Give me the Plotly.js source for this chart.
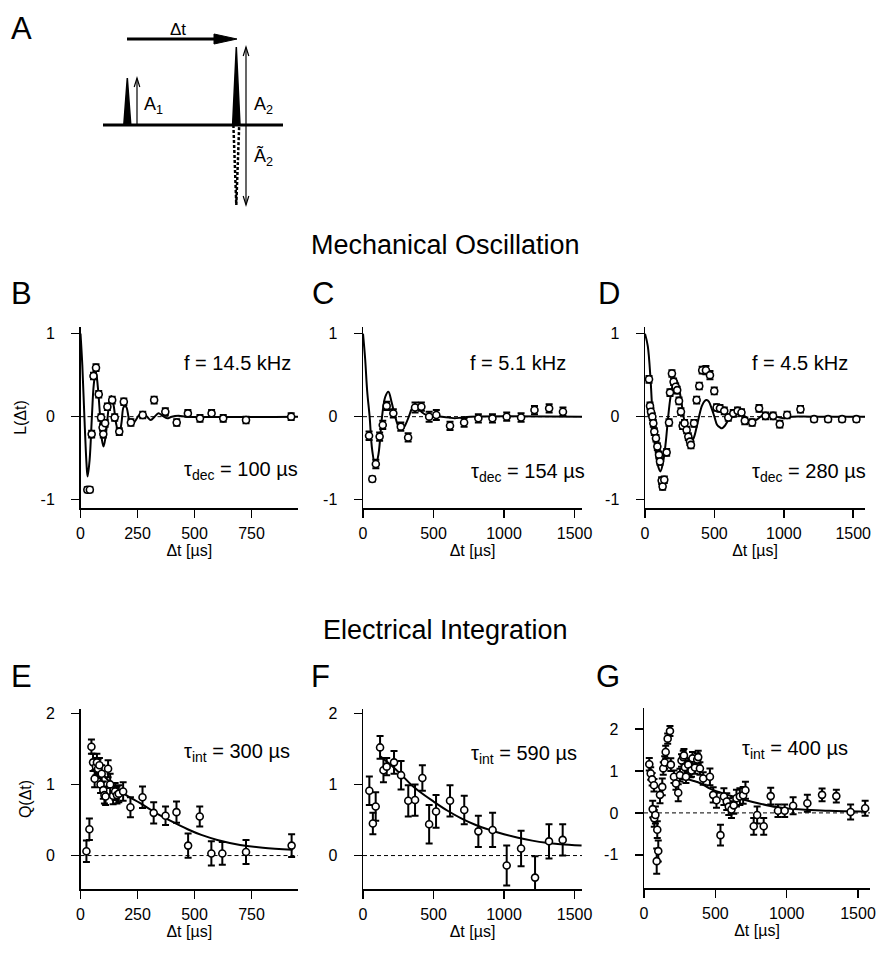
<!DOCTYPE html>
<html><head><meta charset="utf-8">
<script src="https://cdn.plot.ly/plotly-3.0.1.min.js"></script>
<style>body{margin:0;padding:0;background:#fff}#g{width:890px;height:957px}</style>
</head><body><div id="g"></div>
<script>
// ---------- DATA ----------
// Panel B
const bX   = [30, 41, 49, 57, 68, 80, 90, 97, 100, 108, 118, 139, 150, 170, 190, 221, 273, 323, 372, 422, 471, 524, 575, 626, 726, 924];
const bY   = [-0.88, -0.88, -0.21, 0.49, 0.59, 0.27, -0.01, -0.13, -0.21, -0.08, 0.12, 0.20, -0.01, -0.18, 0.18, -0.07, 0.02, 0.20, 0.06, -0.07, 0.04, -0.02, 0.04, -0.02, -0.04, 0.00];
const bErr = [0.03, 0.03, 0.04, 0.04, 0.04, 0.04, 0.04, 0.04, 0.04, 0.04, 0.04, 0.04, 0.04, 0.04, 0.04, 0.04, 0.04, 0.04, 0.04, 0.04, 0.04, 0.04, 0.04, 0.04, 0.04, 0.04];
const bFitX = [0, 8, 17, 26, 31, 40, 50, 58, 67, 76, 86, 94, 101, 110, 121, 128, 135, 145, 156, 164, 171, 180, 190, 200, 212, 224, 240, 258, 275, 292, 308, 325, 342, 360, 380, 400, 430, 470, 954];
const bFitY = [1.0, 0.62, 0.0, -0.55, -0.72, -0.52, 0.0, 0.38, 0.55, 0.36, 0.0, -0.28, -0.36, -0.24, 0.05, 0.2, 0.25, 0.14, -0.08, -0.17, -0.19, -0.07, 0.12, 0.12, -0.02, -0.1, -0.05, 0.02, 0.04, 0.0, -0.04, 0.0, 0.04, 0.01, -0.02, 0.0, 0.01, 0.0, 0.0];

// Panel C
const cX   = [43, 66, 91, 118, 140, 168, 215, 268, 320, 369, 414, 469, 520, 617, 717, 818, 918, 1019, 1121, 1216, 1320, 1418];
const cY   = [-0.23, -0.75, -0.57, -0.24, -0.10, 0.13, 0.04, -0.12, -0.25, 0.11, 0.12, 0.00, 0.02, -0.11, -0.07, -0.02, -0.02, 0.00, -0.01, 0.08, 0.10, 0.06];
const cErr = [0.05, 0.03, 0.05, 0.05, 0.05, 0.05, 0.05, 0.05, 0.05, 0.06, 0.05, 0.06, 0.06, 0.05, 0.05, 0.05, 0.05, 0.05, 0.05, 0.05, 0.05, 0.05];
const cFitX = [0, 15, 30, 47, 65, 88, 110, 135, 158, 180, 202, 228, 252, 275, 300, 325, 348, 370, 395, 420, 450, 500, 560, 610, 650, 700, 760, 1553];
const cFitY = [1.0, 0.7, 0.3, 0.0, -0.4, -0.6, -0.45, 0.0, 0.24, 0.3, 0.18, 0.0, -0.12, -0.16, -0.1, 0.0, 0.1, 0.13, 0.1, 0.05, 0.02, 0.01, 0.0, -0.01, -0.02, -0.01, 0.0, 0.0];

// Panel D
const dX   = [29, 36, 43, 53, 60, 67, 79, 89, 101, 108, 120, 127, 139, 156, 173, 180, 194, 206, 221, 232, 245, 259, 271, 285, 300, 312, 324, 331, 353, 372, 391, 412, 439, 468, 499, 516, 540, 571, 600, 636, 667, 695, 719, 772, 822, 868, 923, 971, 1024, 1120, 1218, 1319, 1420, 1523];
const dY   = [0.45, 0.13, 0.06, 0.0, -0.08, -0.18, -0.26, -0.36, -0.46, -0.54, -0.77, -0.84, -0.76, -0.43, -0.07, 0.29, 0.52, 0.42, 0.36, 0.32, 0.19, 0.06, -0.11, -0.08, -0.16, -0.24, -0.30, -0.34, -0.08, 0.20, 0.37, 0.56, 0.56, 0.50, 0.31, 0.11, 0.10, 0.07, -0.01, 0.04, 0.07, 0.05, -0.05, -0.07, 0.10, 0.01, 0.01, -0.09, 0.02, 0.09, -0.03, -0.03, -0.03, -0.03];
const dErr = [0.04, 0.04, 0.04, 0.04, 0.04, 0.04, 0.04, 0.04, 0.04, 0.04, 0.04, 0.04, 0.04, 0.04, 0.04, 0.04, 0.04, 0.04, 0.04, 0.04, 0.04, 0.04, 0.04, 0.04, 0.04, 0.04, 0.04, 0.04, 0.04, 0.04, 0.04, 0.04, 0.05, 0.05, 0.04, 0.04, 0.04, 0.04, 0.04, 0.04, 0.04, 0.04, 0.04, 0.04, 0.04, 0.04, 0.04, 0.04, 0.04, 0.04, 0.03, 0.03, 0.03, 0.03];
const dFitX = [0, 20, 40, 55, 75, 95, 111, 130, 150, 167, 185, 205, 222, 240, 260, 278, 300, 318, 333, 350, 370, 389, 410, 430, 444, 460, 480, 500, 520, 540, 555, 575, 600, 640, 666, 690, 722, 750, 777, 810, 833, 870, 900, 945, 1000, 1060, 1200, 1585];
const dFitY = [1.0, 0.85, 0.45, 0.0, -0.4, -0.6, -0.66, -0.55, -0.3, 0.0, 0.25, 0.41, 0.45, 0.38, 0.2, 0.0, -0.18, -0.27, -0.3, -0.26, -0.14, 0.0, 0.13, 0.19, 0.2, 0.18, 0.1, 0.0, -0.1, -0.13, -0.14, -0.11, -0.04, 0.07, 0.09, 0.07, 0.0, -0.05, -0.06, -0.03, 0.0, 0.03, 0.03, 0.0, -0.02, 0.0, 0.0, 0.0];

// Panel E
const eX   = [26, 39, 48, 55, 62, 68, 72, 77, 83, 88, 93, 100, 105, 110, 121, 130, 143, 152, 160, 168, 187, 219, 272, 321, 373, 421, 472, 523, 574, 622, 726, 926];
const eY   = [0.06, 0.37, 1.53, 1.31, 1.08, 1.25, 1.31, 1.22, 1.27, 1.00, 1.15, 0.92, 0.85, 0.83, 1.22, 1.00, 0.84, 0.90, 0.85, 0.87, 0.90, 0.68, 0.82, 0.60, 0.56, 0.61, 0.14, 0.55, 0.03, 0.03, 0.05, 0.14];
const eErr = [0.15, 0.15, 0.10, 0.12, 0.12, 0.12, 0.12, 0.13, 0.10, 0.12, 0.12, 0.12, 0.12, 0.12, 0.12, 0.15, 0.12, 0.12, 0.12, 0.12, 0.13, 0.14, 0.15, 0.15, 0.13, 0.15, 0.17, 0.14, 0.17, 0.16, 0.17, 0.16];
const eFitX = [55, 80, 100, 150, 200, 260, 330, 400, 470, 530, 600, 700, 800, 930];
const eFitY = [1.35, 1.22, 1.13, 0.97, 0.85, 0.74, 0.6, 0.48, 0.37, 0.29, 0.22, 0.15, 0.11, 0.08];

// Panel F
const fX   = [45, 70, 90, 121, 145, 168, 220, 270, 321, 369, 421, 469, 518, 617, 718, 818, 919, 1019, 1121, 1220, 1319, 1416];
const fY   = [0.91, 0.45, 0.69, 1.52, 1.20, 1.25, 1.31, 1.13, 0.77, 0.78, 1.09, 0.44, 0.62, 0.77, 0.64, 0.34, 0.36, -0.14, 0.10, -0.31, 0.20, 0.22];
const fErr = [0.20, 0.15, 0.20, 0.16, 0.17, 0.12, 0.16, 0.20, 0.22, 0.22, 0.18, 0.27, 0.23, 0.22, 0.20, 0.22, 0.24, 0.28, 0.25, 0.30, 0.24, 0.22];
const fFitX = [120, 200, 270, 340, 400, 500, 600, 700, 800, 900, 1000, 1100, 1200, 1300, 1400, 1550];
const fFitY = [1.4, 1.27, 1.14, 1.0, 0.9, 0.76, 0.63, 0.52, 0.43, 0.36, 0.3, 0.25, 0.21, 0.18, 0.16, 0.14];

// Panel G
const gX   = [37, 47, 57, 61, 70, 72, 80, 89, 93, 100, 112, 128, 135, 145, 152, 166, 182, 188, 210, 224, 240, 252, 263, 275, 280, 287, 294, 310, 326, 333, 340, 357, 373, 380, 392, 415, 462, 485, 508, 536, 560, 580, 594, 613, 629, 648, 672, 695, 711, 769, 793, 839, 888, 939, 986, 1045, 1145, 1248, 1348, 1448, 1550];
const gY   = [1.16, 0.94, 0.80, 0.09, 0.66, -0.13, -0.05, -1.15, -0.40, -0.91, 0.43, 0.62, 1.06, 1.20, 1.45, 1.77, 1.95, 1.15, 0.86, 0.70, 0.48, 0.90, 1.25, 1.33, 1.37, 1.09, 0.86, 1.15, 1.00, 1.01, 1.30, 1.08, 1.27, 1.33, 1.06, 0.82, 0.86, 0.43, 0.30, -0.53, 0.39, 0.27, 0.15, 0.08, 0.18, 0.35, 0.39, 0.42, 0.54, -0.32, -0.05, -0.32, 0.40, 0.05, 0.05, 0.17, 0.23, 0.43, 0.40, 0.02, 0.11];
const gErr = [0.15, 0.15, 0.15, 0.20, 0.15, 0.20, 0.20, 0.30, 0.20, 0.25, 0.20, 0.20, 0.15, 0.15, 0.15, 0.12, 0.12, 0.15, 0.15, 0.15, 0.20, 0.15, 0.15, 0.15, 0.15, 0.15, 0.15, 0.15, 0.15, 0.15, 0.15, 0.15, 0.15, 0.15, 0.15, 0.15, 0.20, 0.18, 0.18, 0.25, 0.20, 0.20, 0.20, 0.20, 0.20, 0.20, 0.20, 0.20, 0.20, 0.20, 0.20, 0.20, 0.20, 0.15, 0.15, 0.20, 0.20, 0.15, 0.15, 0.18, 0.18];
const gFitX = [250, 300, 350, 400, 462, 550, 625, 695, 800, 928, 1050, 1161, 1300, 1560];
const gFitY = [0.8, 0.8, 0.76, 0.7, 0.58, 0.47, 0.39, 0.32, 0.23, 0.14, 0.09, 0.07, 0.05, 0.03];

// Tick labels
const xTicksB = [0, 250, 500, 750];
const xTicksLong = [0, 500, 1000, 1500];
const yTicksL = [-1, 0, 1];
const yTicksLText = ['-1', '0', '1'];
const yTicksQ = [0, 1, 2];
const yTicksG = [-1, 0, 1, 2];
const yTicksGText = ['-1', '0', '1', '2'];

// ---------- LAYOUT ----------
const W = 890, H = 957;
const FONT = 'Liberation Sans, Arial, Helvetica, sans-serif';
const px = x => x / W;
const py = y => 1 - y / H;

function xAxis(x0, x1, range, tickvals, anchor) {
  return {domain: [px(x0), px(x1)], range: range, anchor: anchor,
    showline: true, linewidth: 1.5, linecolor: '#000', mirror: false,
    ticks: 'outside', ticklen: 8, tickwidth: 1.5, tickcolor: '#000',
    tickmode: 'array', tickvals: tickvals, ticktext: tickvals.map(String),
    tickfont: {size: 16, color: '#000', family: FONT}, ticklabelstandoff: 2,
    showgrid: false, zeroline: false, automargin: false, fixedrange: true,
    title: {text: 'Δt [µs]', font: {size: 16, color: '#000', family: FONT}, standoff: 3}};
}
function yAxis(y0, y1, range, tickvals, ticktext, anchor, title) {
  const a = {domain: [py(y1), py(y0)], range: range, anchor: anchor,
    showline: true, linewidth: 1.5, linecolor: '#000', mirror: false,
    ticks: 'outside', ticklen: 8, tickwidth: 1.5, tickcolor: '#000',
    tickmode: 'array', tickvals: tickvals, ticktext: ticktext,
    tickfont: {size: 16, color: '#000', family: FONT}, ticklabelstandoff: 13,
    showgrid: false, zeroline: false, automargin: false, fixedrange: true};
  if (title) a.title = {text: title, font: {size: 16, color: '#000', family: FONT}, standoff: 10};
  return a;
}

const rangeL = [-1.10, 1.08];
const rangeQ = [-0.47, 2.06];
const layout = {
  width: W, height: H, margin: {l: 0, r: 0, t: 0, b: 0}, autosize: false,
  paper_bgcolor: '#fff', plot_bgcolor: 'rgba(0,0,0,0)', showlegend: false,
  font: {family: FONT, color: '#000', size: 16},
  xaxis:  xAxis(80.5, 298, [0, 954], xTicksB, 'y'),
  yaxis:  yAxis(327, 508, rangeL, yTicksL, yTicksLText, 'x', 'L(Δt)'),
  xaxis2: xAxis(363, 582, [0, 1553], xTicksLong, 'y2'),
  yaxis2: yAxis(327, 508, rangeL, yTicksL, yTicksLText, 'x2'),
  xaxis3: xAxis(645, 865, [0, 1585], xTicksLong, 'y3'),
  yaxis3: yAxis(327, 508, rangeL, yTicksL, yTicksLText, 'x3'),
  xaxis4: xAxis(80.5, 298, [0, 954], xTicksB, 'y4'),
  yaxis4: yAxis(709, 889, rangeQ, yTicksQ, yTicksQ.map(String), 'x4', 'Q(Δt)'),
  xaxis5: xAxis(363, 582, [0, 1553], xTicksLong, 'y5'),
  yaxis5: yAxis(709, 889, rangeQ, yTicksQ, yTicksQ.map(String), 'x5'),
  xaxis6: xAxis(644, 870, [0, 1584], xTicksLong, 'y6'),
  yaxis6: yAxis(708, 888, [-1.79, 2.5], yTicksG, yTicksGText, 'x6'),
  // pixel-space helper axes for the schematic of panel A
  xaxis7: {domain: [0, 1], range: [0, W], visible: false, fixedrange: true, anchor: 'y7'},
  yaxis7: {domain: [0, 1], range: [H, 0], visible: false, fixedrange: true, anchor: 'x7'},
  shapes: [], annotations: []
};

// dashed zero lines
['', '2', '3', '4', '5', '6'].forEach(s => {
  layout.shapes.push({type: 'line', xref: 'x' + s + ' domain', yref: 'y' + s, x0: 0, x1: 1, y0: 0, y1: 0,
    line: {color: '#000', width: 1, dash: '4px,3px'}, layer: 'below'});
});

// schematic (panel A), drawn in pixel space
const S = {xref: 'x7', yref: 'y7'};
function shp(o) { layout.shapes.push(Object.assign(o, S)); }
shp({type: 'line', x0: 103, y0: 125, x1: 283, y1: 125, line: {color: '#000', width: 3}});
shp({type: 'path', path: 'M123.8,125 L127.3,78 L130.8,125 Z', fillcolor: '#000', line: {color: '#000', width: 1.5}});
shp({type: 'path', path: 'M232.6,125 L236.3,47 L240,125 Z', fillcolor: '#000', line: {color: '#000', width: 1.5}});
shp({type: 'path', path: 'M233.4,125 L236.3,205 L239.2,125', line: {color: '#000', width: 2.5, dash: '3px,2px'}});
// Δt arrow
shp({type: 'line', x0: 127, y0: 39, x1: 218, y1: 39, line: {color: '#000', width: 3}});
shp({type: 'path', path: 'M214,34 L237,39 L214,44 Z', fillcolor: '#000', line: {color: '#000', width: 1}});
// A1 arrow
shp({type: 'line', x0: 137, y0: 125, x1: 137, y1: 78.5, line: {color: '#000', width: 1.2}});
shp({type: 'path', path: 'M134.2,87 L137,78 L139.8,87', line: {color: '#000', width: 1.2}});
// A2 double arrow
shp({type: 'line', x0: 246, y0: 47.5, x1: 246, y1: 204.5, line: {color: '#000', width: 1.2}});
shp({type: 'path', path: 'M243.2,56 L246,47 L248.8,56', line: {color: '#000', width: 1.2}});
shp({type: 'path', path: 'M243.2,196 L246,205 L248.8,196', line: {color: '#000', width: 1.2}});

function txt(text, x, y, size, xanchor, opts) {
  return Object.assign({text: text, x: px(x), y: py(y), xref: 'paper', yref: 'paper', showarrow: false,
    xanchor: xanchor || 'left', yanchor: 'middle', font: {size: size, color: '#000', family: FONT}}, opts || {});
}
// schematic labels
layout.annotations.push(txt('Δt', 178, 30, 17, 'center'));
layout.annotations.push(txt('A<sub>1</sub>', 142, 106, 18));
layout.annotations.push(txt('A<sub>2</sub>', 252, 106, 18));
layout.annotations.push(txt('Ã<sub>2</sub>', 252, 157, 18));

// panel letters
[['A', 9, 28], ['B', 9, 293], ['C', 310, 293], ['D', 596, 293],
 ['E', 9, 676], ['F', 309, 676], ['G', 594, 676]].forEach(l => layout.annotations.push(txt(l[0], l[1], l[2], 31)));

// section titles
layout.annotations.push(txt('Mechanical Oscillation', 445, 245, 27, 'center'));
layout.annotations.push(txt('Electrical Integration', 445, 630, 27, 'center'));

// fit parameters
layout.annotations.push(txt('f = 14.5 kHz', 182, 363, 20));
layout.annotations.push(txt('τ<sub>dec</sub> = 100 µs', 182, 470, 20));
layout.annotations.push(txt('f = 5.1 kHz', 468, 363, 20));
layout.annotations.push(txt('τ<sub>dec</sub> = 154 µs', 469, 472, 20));
layout.annotations.push(txt('f = 4.5 kHz', 750, 363, 20));
layout.annotations.push(txt('τ<sub>dec</sub> = 280 µs', 750, 472, 20));
layout.annotations.push(txt('τ<sub>int</sub> = 300 µs', 182, 752, 20));
layout.annotations.push(txt('τ<sub>int</sub> = 590 µs', 469, 754, 20));
layout.annotations.push(txt('τ<sub>int</sub> = 400 µs', 740, 749, 20));

// ---------- TRACES ----------
const traces = [];
function panel(fx, fy, x, y, err, s) {
  traces.push({type: 'scatter', mode: 'lines', x: fx, y: fy, xaxis: 'x' + s, yaxis: 'y' + s,
    line: {color: '#000', width: 2, shape: 'spline', smoothing: 1}, hoverinfo: 'skip'});
  traces.push({type: 'scatter', mode: 'markers', x: x, y: y, xaxis: 'x' + s, yaxis: 'y' + s,
    marker: {symbol: 'circle', size: 7, color: '#fff', line: {color: '#000', width: 1.6}},
    error_y: {type: 'data', array: err, visible: true, color: '#000', thickness: 2, width: 3.5}});
}
panel(bFitX, bFitY, bX, bY, bErr, '');
panel(cFitX, cFitY, cX, cY, cErr, '2');
panel(dFitX, dFitY, dX, dY, dErr, '3');
panel(eFitX, eFitY, eX, eY, eErr, '4');
panel(fFitX, fFitY, fX, fY, fErr, '5');
panel(gFitX, gFitY, gX, gY, gErr, '6');
// invisible trace to activate helper axes
traces.push({type: 'scatter', mode: 'markers', x: [0], y: [0], xaxis: 'x7', yaxis: 'y7', marker: {opacity: 0}, hoverinfo: 'skip'});

Plotly.newPlot('g', traces, layout, {staticPlot: true, displayModeBar: false});
</script></body></html>
